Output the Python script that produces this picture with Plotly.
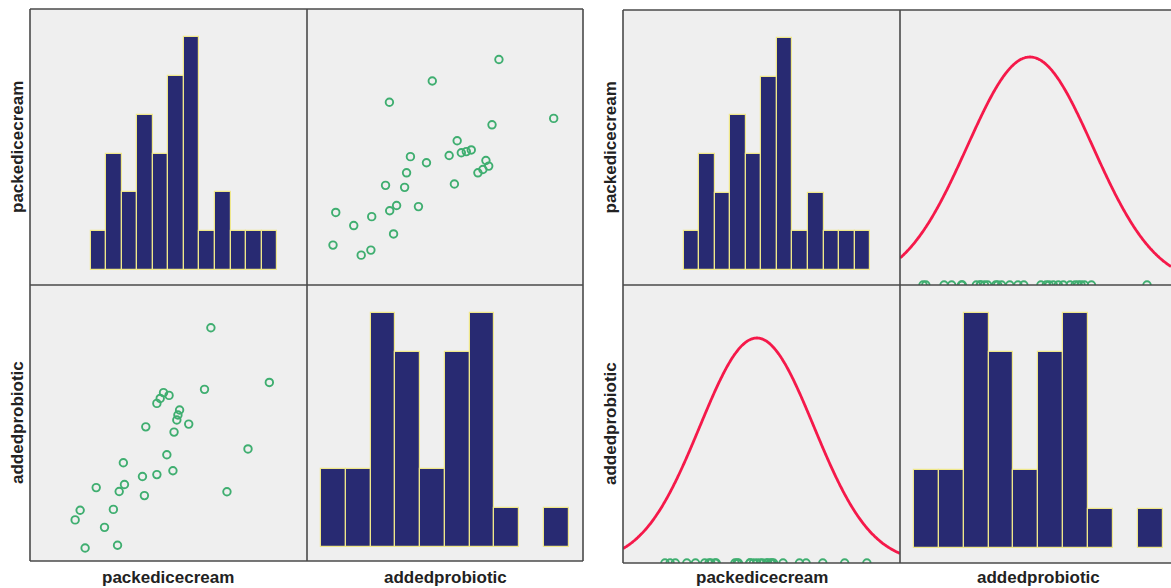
import numpy as np
import plotly.graph_objects as go

# ---------------- data ----------------
variables = ["packedicecream", "addedprobiotic"]

packedicecream = [65.3, 86.4, 63.0, 48.2, 50.2, 47.0, 45.8, 54.0, 53.4, 53.0,
                  57.3, 41.8, 52.0, 78.7, 49.4, 33.7, 51.6, 45.8, 40.6, 34.1,
                  23.9, 32.2, 71.1, 41.3, 18.1, 30.1, 16.3, 26.9, 31.6, 19.9]
addedprobiotic = [84.5, 64.7, 62.2, 61.0, 60.0, 58.9, 57.1, 54.7, 52.9, 51.1,
                  49.6, 48.6, 46.7, 40.6, 38.5, 35.6, 32.7, 31.3, 30.6, 27.7,
                  26.6, 25.2, 25.1, 23.7, 18.4, 18.7, 14.9, 12.2, 5.7, 4.7]

pack_counts = [1, 3, 2, 4, 3, 5, 6, 1, 2, 1, 1, 1]
pack_bin_start = 21.9
pack_bin_width = 5.61

prob_counts = [2, 2, 6, 5, 2, 5, 6, 1, 0, 1]
prob_bin_start = 5.07
prob_bin_width = 8.97

pack_norm_mean, pack_norm_sd = 48.2, 19.8
prob_norm_mean, prob_norm_sd = 42.8, 22.4

# ---------------- styling / layout ----------------
W, H = 1171, 588
BAR_FILL = "#282a72"
BAR_EDGE = "#efe78a"
PT_COLOR = "#3fae70"
CURVE = "#f5194a"
CELL_BG = "#efefef"
BORDER = "#4a4a4a"
FONT = "Liberation Sans, Arial, sans-serif"


def xd(a, b):
    return [a / W, min(b / W, 1.0)]


def yd(top, bottom):
    return [1 - bottom / H, 1 - top / H]


def pdf(x, m, s):
    return np.exp(-0.5 * ((x - m) / s) ** 2) / (s * np.sqrt(2 * np.pi))


pack_centers = pack_bin_start + pack_bin_width * (np.arange(len(pack_counts)) + 0.5)
prob_centers = prob_bin_start + prob_bin_width * (np.arange(len(prob_counts)) + 0.5)

fig = go.Figure()


def hist(ax, centers, counts, width):
    fig.add_trace(go.Bar(x=centers, y=[c if c > 0 else None for c in counts], width=width,
                         marker=dict(color=BAR_FILL, line=dict(color=BAR_EDGE, width=1.2)),
                         xaxis="x" + ax, yaxis="y" + ax, showlegend=False, hoverinfo="skip"))


def scatter(ax, xs, ys):
    fig.add_trace(go.Scatter(x=xs, y=ys, mode="markers",
                             marker=dict(symbol="circle-open", size=7.5, color=PT_COLOR,
                                         line=dict(width=1.9, color=PT_COLOR)),
                             xaxis="x" + ax, yaxis="y" + ax, showlegend=False, hoverinfo="skip"))


def normal(ax, values, m, s, xr):
    xs = np.linspace(xr[0], xr[1], 300)
    fig.add_trace(go.Scatter(x=xs, y=pdf(xs, m, s), mode="lines",
                             line=dict(color=CURVE, width=2.8, shape="spline"),
                             xaxis="x" + ax, yaxis="y" + ax, showlegend=False, hoverinfo="skip"))
    fig.add_trace(go.Scatter(x=values, y=[0] * len(values), mode="markers", cliponaxis=True,
                             marker=dict(symbol="circle-open", size=7.5, color=PT_COLOR,
                                         line=dict(width=1.9, color=PT_COLOR)),
                             xaxis="x" + ax, yaxis="y" + ax, showlegend=False, hoverinfo="skip"))


# ranges
hist_pack_xr, hist_pack_yr = [0, 100], [-0.39, 6.73]
hist_prob_xr, hist_prob_yr = [0, 100], [-0.37, 6.71]
tr_xr, tr_yr = [-4.7, 95.1], [5.6, 104.5]
bl_xr, bl_yr = [0, 100], [0, 100]
r_tr_xr = [-3.5, -3.5 + 271 / 2.807]
r_bl_xr = [1.74, 97.9]
r_hist_prob_xr = [0, 100 * 271 / 277]

# traces
hist("", pack_centers, pack_counts, pack_bin_width)
scatter("2", addedprobiotic, packedicecream)
scatter("3", packedicecream, addedprobiotic)
hist("4", prob_centers, prob_counts, prob_bin_width)
hist("5", pack_centers, pack_counts, pack_bin_width)
normal("6", addedprobiotic, prob_norm_mean, prob_norm_sd, r_tr_xr)
normal("7", packedicecream, pack_norm_mean, pack_norm_sd, r_bl_xr)
hist("8", prob_centers, prob_counts, prob_bin_width)

prob_peak = pdf(prob_norm_mean, prob_norm_mean, prob_norm_sd)
pack_peak = pdf(pack_norm_mean, pack_norm_mean, pack_norm_sd)

cells = {
    1: (xd(30, 307), yd(9, 285), hist_pack_xr, hist_pack_yr),
    2: (xd(307, 583), yd(9, 285), tr_xr, tr_yr),
    3: (xd(30, 307), yd(285, 561), bl_xr, bl_yr),
    4: (xd(307, 583), yd(285, 561), hist_prob_xr, hist_prob_yr),
    5: (xd(623, 900), yd(10, 285), hist_pack_xr, hist_pack_yr),
    6: (xd(900, 1171), yd(10, 285), r_tr_xr, [0, prob_peak * 275 / 228]),
    7: (xd(623, 900), yd(285, 563), r_bl_xr, [0, pack_peak * 278 / 225]),
    8: (xd(900, 1171), yd(285, 563), r_hist_prob_xr, hist_prob_yr),
}

axis_common = dict(showgrid=False, zeroline=False, showticklabels=False, ticks="",
                   showline=False, fixedrange=True)
layout_axes = {}
for i, (xdom, ydom, xr, yr) in cells.items():
    s = "" if i == 1 else str(i)
    layout_axes["xaxis" + s] = dict(domain=xdom, range=xr, anchor="y" + s, **axis_common)
    layout_axes["yaxis" + s] = dict(domain=ydom, range=yr, anchor="x" + s, **axis_common)

shapes = []


def line(x0, y0, x1, y1):
    shapes.append(dict(type="line", xref="paper", yref="paper",
                       x0=x0 / W, x1=x1 / W, y0=1 - y0 / H, y1=1 - y1 / H,
                       line=dict(color=BORDER, width=1.6), layer="above"))


# left matrix frame
line(30, 9, 583, 9); line(30, 561, 583, 561); line(30, 9, 30, 561); line(583, 9, 583, 561)
line(307, 9, 307, 561); line(30, 285, 583, 285)
# right matrix frame
line(623, 10, 1180, 10); line(623, 563, 1180, 563); line(623, 10, 623, 563)
line(900, 10, 900, 563); line(623, 285, 1180, 285)

annotations = []


def label(text, x, y, angle=0):
    annotations.append(dict(text="<b>" + text + "</b>", xref="paper", yref="paper",
                            x=x / W, y=1 - y / H, showarrow=False, textangle=angle,
                            xanchor="center", yanchor="middle",
                            font=dict(family=FONT, size=17, color="#222222")))


label(variables[0], 17, 147, -90)
label(variables[1], 17, 423, -90)
label(variables[0], 168.5, 577)
label(variables[1], 445, 577)
label(variables[0], 610, 147.5, -90)
label(variables[1], 610, 424, -90)
label(variables[0], 761.5, 577)
label(variables[1], 1038.5, 577)

fig.update_layout(width=W, height=H, margin=dict(l=0, r=0, t=0, b=0),
                  paper_bgcolor="white", plot_bgcolor=CELL_BG, bargap=0,
                  shapes=shapes, annotations=annotations, **layout_axes)

fig.write_html("out.html", config={"displayModeBar": False},
               post_script="document.body.style.margin='0';document.body.style.padding='0';")
